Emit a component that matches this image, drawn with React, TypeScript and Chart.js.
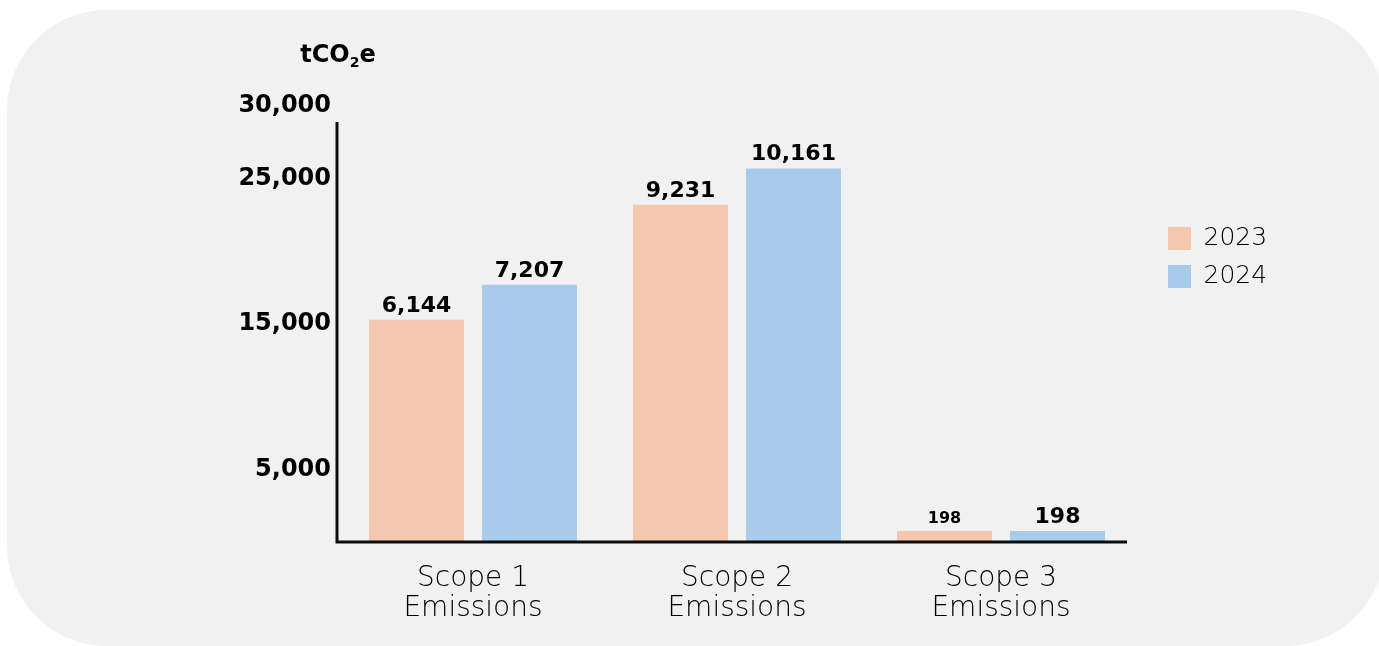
import React, { useEffect, useRef } from 'react';
import { Chart, registerables } from 'chart.js';

Chart.register(...registerables);

// ---- data ----
const CATEGORIES = [
  ['Scope 1', 'Emissions'],
  ['Scope 2', 'Emissions'],
  ['Scope 3', 'Emissions'],
];
const SERIES_NAMES = ['2023', '2024'];
// bar heights as drawn against the y axis
const BARS_2023 = [15300, 23200, 760];
const BARS_2024 = [17700, 25700, 760];
// value labels printed above the bars
const LABELS_2023 = ['6,144', '9,231', '198'];
const LABELS_2024 = ['7,207', '10,161', '198'];
const Y_TICKS = [5000, 15000, 25000, 30000];
const Y_MIN = 0;
const Y_MAX = 30000;
const AXIS_TITLE_PARTS = ['tCO', '2', 'e'];

const COLOR_2023 = '#F5C7AE';
const COLOR_2024 = '#A8CBEC';
const INK = '#000000';

const axisLinesPlugin = {
  id: 'axisLines',
  afterDatasetsDraw(chart: any) {
    const { ctx, chartArea, scales } = chart;
    const x0 = chartArea.left - 4;
    const yTop = scales.y.getPixelForValue(28900);
    const yBot = chartArea.bottom;
    ctx.save();
    ctx.strokeStyle = '#0d0d0d';
    ctx.lineWidth = 3;
    ctx.beginPath();
    ctx.moveTo(x0, yTop);
    ctx.lineTo(x0, yBot);
    ctx.lineTo(chartArea.right - 6, yBot);
    ctx.stroke();
    ctx.restore();
  },
};

const valueLabelsPlugin = {
  id: 'valueLabels',
  afterDatasetsDraw(chart: any, _args: any, opts: any) {
    const { ctx } = chart;
    const labelSets = [LABELS_2023, LABELS_2024];
    ctx.save();
    ctx.fillStyle = INK;
    ctx.textAlign = 'center';
    ctx.textBaseline = 'alphabetic';
    chart.data.datasets.forEach((_ds: any, i: number) => {
      const meta = chart.getDatasetMeta(i);
      meta.data.forEach((bar: any, j: number) => {
        const size = opts.sizes[i][j];
        ctx.font = `bold ${size}px "DejaVu Sans"`;
        ctx.fillText(labelSets[i][j], bar.x, bar.y - opts.offset);
      });
    });
    ctx.restore();
  },
};

const axisTitlePlugin = {
  id: 'axisTitle',
  afterDraw(chart: any) {
    const { ctx, chartArea } = chart;
    const cx = chartArea.left - 3;
    const baseY = chartArea.top - 44;
    const big = 'bold 24px "DejaVu Sans"';
    const small = 'bold 14px "DejaVu Sans"';
    ctx.save();
    ctx.fillStyle = INK;
    ctx.textBaseline = 'alphabetic';
    ctx.textAlign = 'left';
    ctx.font = big;
    const w0 = ctx.measureText(AXIS_TITLE_PARTS[0]).width;
    const w2 = ctx.measureText(AXIS_TITLE_PARTS[2]).width;
    ctx.font = small;
    const w1 = ctx.measureText(AXIS_TITLE_PARTS[1]).width;
    let x = cx - (w0 + w1 + w2) / 2;
    ctx.font = big;
    ctx.fillText(AXIS_TITLE_PARTS[0], x, baseY);
    x += w0;
    ctx.font = small;
    ctx.fillText(AXIS_TITLE_PARTS[1], x, baseY + 5);
    x += w1;
    ctx.font = big;
    ctx.fillText(AXIS_TITLE_PARTS[2], x, baseY);
    ctx.restore();
  },
};

function BarChart() {
  const canvasRef = useRef<HTMLCanvasElement | null>(null);

  useEffect(() => {
    if (!canvasRef.current) return;
    const chart = new Chart(canvasRef.current, {
      type: 'bar',
      data: {
        labels: CATEGORIES,
        datasets: [
          {
            label: SERIES_NAMES[0],
            data: BARS_2023,
            backgroundColor: COLOR_2023,
            borderColor: COLOR_2023,
            borderWidth: 0,
            categoryPercentage: 0.856,
            barPercentage: 0.841,
          },
          {
            label: SERIES_NAMES[1],
            data: BARS_2024,
            backgroundColor: COLOR_2024,
            borderColor: COLOR_2024,
            borderWidth: 0,
            categoryPercentage: 0.856,
            barPercentage: 0.841,
          },
        ],
      },
      options: {
        animation: false,
        responsive: true,
        maintainAspectRatio: false,
        events: [],
        layout: {
          padding: { left: 231, right: 114, top: 106, bottom: 20 },
        },
        scales: {
          x: {
            type: 'category',
            grid: { display: false, drawTicks: false },
            border: { display: false },
            ticks: {
              color: INK,
              padding: 21,
              maxRotation: 0,
              font: { family: '"DejaVu Sans"', size: 28, weight: '300', lineHeight: 1.1 },
            },
            afterFit: (s: any) => {
              s.height = 84;
            },
          },
          y: {
            type: 'linear',
            min: Y_MIN,
            max: Y_MAX,
            grid: { display: false, drawTicks: false },
            border: { display: false },
            afterBuildTicks: (s: any) => {
              s.ticks = Y_TICKS.map((v) => ({ value: v }));
            },
            ticks: {
              color: INK,
              padding: 10,
              font: { family: '"DejaVu Sans"', size: 24, weight: 'bold' },
              callback: (v: any) => Number(v).toLocaleString('en-US'),
            },
            afterFit: (s: any) => {
              s.width = 110;
            },
          },
          spacer: {
            type: 'linear',
            position: 'right',
            display: true,
            grid: { display: false, drawTicks: false },
            border: { display: false },
            ticks: { display: false },
            afterFit: (s: any) => {
              s.width = 22;
            },
          },
        },
        plugins: {
          tooltip: { enabled: false },
          legend: {
            display: true,
            position: 'right',
            align: 'start',
            maxWidth: 110,
            title: {
              display: true,
              text: '',
              font: { size: 10, lineHeight: 1 },
              padding: { top: 97, bottom: 0 },
            },
            labels: {
              boxWidth: 23,
              boxHeight: 23,
              padding: 13,
              color: INK,
              font: { family: '"DejaVu Sans"', size: 25, weight: '300' },
            },
          },
          valueLabels: {
            offset: 8,
            sizes: [
              [22, 22, 16],
              [22, 22, 22],
            ],
          },
        } as any,
      },
      plugins: [axisLinesPlugin, valueLabelsPlugin, axisTitlePlugin],
    } as any);
    return () => chart.destroy();
  }, []);

  return <canvas ref={canvasRef} />;
}

export default function App() {
  return (
    <div
      style={{
        position: 'fixed',
        left: 0,
        top: 0,
        width: 1379,
        height: 646,
        background: '#ffffff',
        overflow: 'hidden',
      }}
    >
      <div
        style={{
          position: 'absolute',
          left: 7,
          top: 10,
          width: 1378,
          height: 636,
          borderRadius: 100,
          background: '#f1f1f1',
        }}
      />
      <div style={{ position: 'absolute', left: 0, top: 0, width: 1379, height: 646 }}>
        <BarChart />
      </div>
    </div>
  );
}
